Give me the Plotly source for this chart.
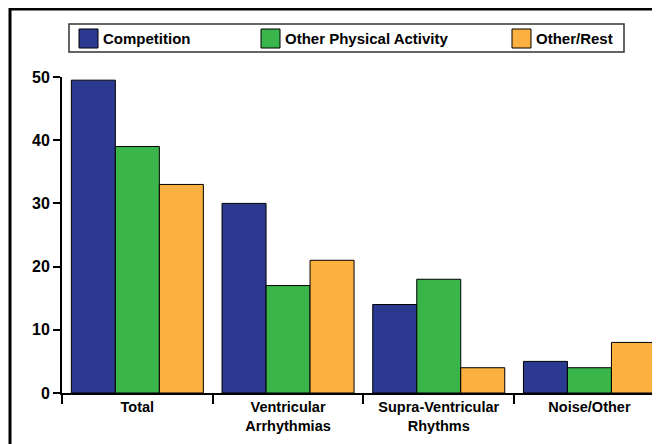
import plotly.graph_objects as go

categories = ["Total", "Ventricular<br>Arrhythmias", "Supra-Ventricular<br>Rhythms", "Noise/Other"]
series_names = ["Competition", "Other Physical Activity", "Other/Rest"]
competition = [49.5, 30, 14, 5]
other_activity = [39, 17, 18, 4]
other_rest = [33, 21, 4, 8]
y_ticks = [0, 10, 20, 30, 40, 50]

colors = ["#2B3990", "#39B54A", "#FBB040"]
values = [competition, other_activity, other_rest]

# page body has an 8px margin; compensate so the chart lands where intended
OFF = 8
W, H = 660, 444
L, T = 62 - OFF, 77 - OFF
PLOT_BOTTOM = 393 - OFF
B = H - PLOT_BOTTOM
R = 0
PW, PH = W - L - R, H - T - B

def px_x(p):
    return (p - OFF - L) / PW

def px_y(p):
    return (H - B - (p - OFF)) / PH

FONT = "Liberation Sans, Arial, sans-serif"

fig = go.Figure()
for name, vals, col in zip(series_names, values, colors):
    fig.add_trace(go.Bar(
        x=categories, y=vals, name=name,
        marker=dict(color=col, line=dict(color="#000000", width=1)),
        showlegend=False,
    ))

shapes = []
annotations = []
# outer frame
shapes.append(dict(type="rect", xref="paper", yref="paper",
                   x0=px_x(10), x1=px_x(720), y0=px_y(500), y1=px_y(9),
                   line=dict(color="#000000", width=3), fillcolor="rgba(0,0,0,0)", layer="below"))
# legend box
shapes.append(dict(type="rect", xref="paper", yref="paper",
                   x0=px_x(69), x1=px_x(624), y0=px_y(52), y1=px_y(24),
                   line=dict(color="#333333", width=1.5), fillcolor="#ffffff"))
sw_x = [79, 261, 512]
for name, col, sx in zip(series_names, colors, sw_x):
    shapes.append(dict(type="rect", xref="paper", yref="paper",
                       x0=px_x(sx), x1=px_x(sx + 19), y0=px_y(48), y1=px_y(29),
                       line=dict(color="#000000", width=1), fillcolor=col))
    annotations.append(dict(xref="paper", yref="paper", x=px_x(sx + 22), y=px_y(38.5),
                            text="<b>" + name + "</b>", showarrow=False,
                            xanchor="left", yanchor="middle",
                            font=dict(family=FONT, size=15, color="#000000")))

fig.update_layout(
    width=W, height=H,
    margin=dict(l=L, r=R, t=T, b=B, pad=0),
    paper_bgcolor="#ffffff", plot_bgcolor="#ffffff",
    barmode="group", bargap=0.124, bargroupgap=0,
    shapes=shapes, annotations=annotations,
    font=dict(family=FONT, size=14, color="#000000"),
)
fig.update_xaxes(
    range=[-0.5, -0.5 + PW / 150.7],
    tickson="boundaries", ticks="outside", ticklen=9, tickwidth=2, tickcolor="#000000",
    showline=True, linewidth=2, linecolor="#000000", showgrid=False,
    tickfont=dict(family=FONT, size=14.5, color="#000000", weight="bold"),
)
fig.update_yaxes(
    range=[0, 50], tickvals=y_ticks,
    ticks="outside", ticklen=7, tickwidth=2, tickcolor="#000000",
    showline=True, linewidth=2, linecolor="#000000", showgrid=False, zeroline=False,
    tickfont=dict(family=FONT, size=16, color="#000000", weight="bold"),
)

fig.write_html("out.html")
